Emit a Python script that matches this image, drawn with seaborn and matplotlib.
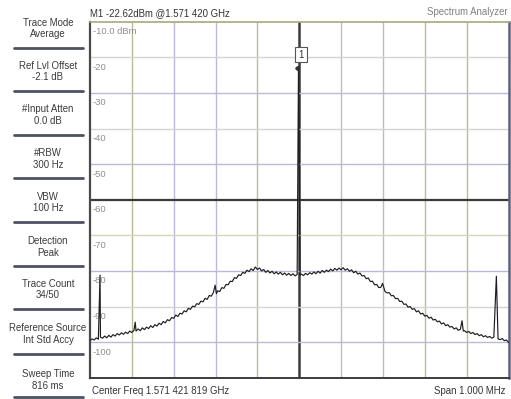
import matplotlib
matplotlib.use("Agg")
import matplotlib.pyplot as plt
from matplotlib.lines import Line2D
import seaborn as sns
import pandas as pd

# ---------------- data ----------------
freq_khz = [
    -500, -495, -490, -485, -480, -476, -475, -470, -465, -460,
    -455, -450, -445, -440, -435, -430, -425, -420, -415, -410,
    -405, -400, -395, -392, -390, -385, -380, -375, -370, -365,
    -360, -355, -350, -345, -340, -335, -330, -325, -320, -315,
    -310, -305, -300, -295, -290, -285, -280, -275, -270, -265,
    -260, -255, -250, -245, -240, -235, -230, -225, -220, -215,
    -210, -205, -201, -198, -195, -190, -185, -180, -175, -170,
    -165, -160, -155, -150, -145, -140, -135, -130, -125, -120,
    -115, -110, -105, -100, -95, -90, -85, -80, -75, -70,
    -65, -60, -55, -50, -45, -40, -35, -30, -25, -20,
    -15, -10, -5, -1.8, 2, 5, 10, 15, 20, 25,
    30, 35, 40, 45, 50, 55, 60, 65, 70, 75,
    80, 85, 90, 95, 100, 105, 110, 115, 120, 125,
    130, 135, 140, 145, 150, 155, 160, 165, 170, 175,
    180, 185, 190, 195, 199, 205, 210, 215, 220, 225,
    230, 235, 240, 245, 250, 255, 260, 265, 270, 275,
    280, 285, 290, 295, 300, 305, 310, 315, 320, 325,
    330, 335, 340, 345, 350, 355, 360, 365, 370, 375,
    380, 385, 389, 392, 395, 400, 405, 410, 415, 420,
    425, 430, 435, 440, 445, 450, 455, 460, 465, 471,
    475, 480, 485, 490, 495, 500,
]
level_dbm = [
    -99.6, -99.1, -99.4, -98.8, -99.2, -81.2, -98.6, -98.9, -98.3, -98.8,
    -98.1, -98.6, -97.9, -98.3, -97.6, -98.0, -97.4, -97.8, -97.2, -97.6,
    -96.9, -97.3, -96.7, -94.4, -96.9, -96.3, -96.8, -96.0, -96.5, -95.8,
    -96.2, -95.4, -95.9, -95.1, -95.5, -94.7, -95.1, -94.2, -94.6, -93.7,
    -94.0, -93.1, -93.3, -92.4, -92.8, -91.9, -92.1, -91.2, -91.5, -90.5,
    -90.8, -89.9, -90.1, -89.2, -89.4, -88.5, -88.7, -87.7, -88.0, -86.9,
    -87.1, -86.0, -84.0, -86.4, -85.6, -85.8, -84.7, -84.9, -83.8, -83.9,
    -82.9, -83.0, -81.9, -82.1, -81.1, -81.3, -80.4, -80.7, -79.8, -80.2,
    -79.4, -79.9, -78.9, -79.6, -79.2, -80.0, -79.6, -80.4, -79.9, -80.6,
    -80.1, -80.8, -80.3, -80.9, -80.4, -81.1, -80.6, -81.2, -80.7, -81.3,
    -80.8, -81.4, -81.0, -22.62, -81.2, -80.9, -81.3, -80.7, -81.1, -80.5,
    -80.9, -80.3, -80.8, -80.1, -80.6, -79.9, -80.4, -79.8, -80.2, -79.5,
    -80.0, -79.3, -79.8, -79.2, -79.7, -79.1, -79.8, -79.4, -80.1, -79.7,
    -80.5, -80.1, -80.9, -80.6, -81.4, -81.3, -82.2, -82.0, -83.0, -82.9,
    -83.9, -83.8, -84.7, -84.6, -83.5, -85.8, -86.2, -86.1, -87.0, -86.9,
    -87.8, -87.7, -88.6, -88.5, -89.4, -89.3, -90.2, -90.0, -90.8, -90.6,
    -91.5, -91.2, -92.1, -91.9, -92.7, -92.5, -93.3, -93.0, -93.8, -93.6,
    -94.3, -94.1, -94.9, -94.6, -95.4, -95.1, -95.8, -95.6, -96.3, -96.0,
    -96.7, -96.4, -94.0, -96.9, -96.8, -97.3, -97.0, -97.6, -97.3, -97.9,
    -97.6, -98.2, -97.9, -98.5, -98.2, -98.7, -98.4, -98.9, -98.6, -81.5,
    -99.1, -99.3, -99.0, -99.6, -99.4, -100.1,
]

ref_levels = [-10, -20, -30, -40, -50, -60, -70, -80, -90, -100]
ref_labels = ["-10.0 dBm", "-20", "-30", "-40", "-50", "-60", "-70", "-80", "-90", "-100"]

softkey_titles = ["Trace Mode", "Ref Lvl Offset", "#Input Atten", "#RBW", "VBW",
                  "Detection", "Trace Count", "Reference Source", "Sweep Time"]
softkey_values = ["Average", "-2.1 dB", "0.0 dB", "300 Hz", "100 Hz",
                  "Peak", "34/50", "Int Std Accy", "816 ms"]

marker_freq = -1.8
marker_level = -22.62
marker_text = "M1 -22.62dBm @1.571 420 GHz"
title_right = "Spectrum Analyzer"
center_text = "Center Freq 1.571 421 819 GHz"
span_text = "Span 1.000 MHz"

# ---------------- style ----------------
sns.set_style("white")
plt.rcParams["font.family"] = ["Liberation Sans", "DejaVu Sans"]

W, H = 511, 399
fig = plt.figure(figsize=(W / 100, H / 100), dpi=100)
fig.patch.set_facecolor("white")

L, R, T, B = 90, 508.5, 21.7, 377.7
ax = fig.add_axes([L / W, (H - B) / H, (R - L) / W, (B - T) / H])
ax.set_xlim(-500, 500)
ax.set_ylim(-110, -10)

# grid
tan = "#bcbc98"
lav = "#babad6"
lgray = "#d4d4d4"
dark = "#3a3a3a"
vcols = [tan, lav, lav, tan, dark, lav, lav, tan, tan]
for k, c in enumerate(vcols, start=1):
    xv = -500 + 100 * k
    ax.axvline(xv, color=c, lw=1.8 if c == dark else 1.0, zorder=1)
hcols = [lgray, lav, lgray, lav, dark, "#d6d6bc", lav, lgray, lav]
for k, c in enumerate(hcols, start=1):
    yv = -10 - 10 * k
    ax.axhline(yv, color=c, lw=1.6 if c == dark else 1.0, zorder=1)

df = pd.DataFrame({"freq_khz": freq_khz, "level_dbm": level_dbm})
sns.lineplot(data=df, x="freq_khz", y="level_dbm", ax=ax, color="#1e1e1e",
             lw=0.85, estimator=None, sort=False, zorder=3)
ax.plot([marker_freq - 3], [marker_level - 0.5], marker="D", ms=1.8, color="#333333", zorder=4)
ax.text(marker_freq + 6, marker_level + 3.4, "1", fontsize=7, ha="center", va="center",
        color="#333333", zorder=5,
        bbox=dict(boxstyle="square,pad=0.3", fc="white", ec="#555555", lw=0.8))

for lvl, lab in zip(ref_levels, ref_labels):
    ax.text(-493, lvl - 2.8, lab, fontsize=6.8, color="#8e8e8e", ha="left", va="center", zorder=2)

ax.set_xticks([])
ax.set_yticks([])
ax.set_xlabel("")
ax.set_ylabel("")
ax.spines["top"].set_color("#a8a87c")
ax.spines["top"].set_linewidth(1.2)
ax.spines["left"].set_color("#4a4a4a")
ax.spines["left"].set_linewidth(1.6)
ax.spines["bottom"].set_color("#3c3c3c")
ax.spines["bottom"].set_linewidth(1.4)
ax.spines["right"].set_color("#60607a")
ax.spines["right"].set_linewidth(1.8)
for s in ax.spines.values():
    s.set_visible(True)

# header / footer text
def fx(px):
    return px / W

def fy(py):
    return 1 - py / H

fig.text(fx(90), fy(13), marker_text, fontsize=6.9, color="#333333", ha="left", va="center")
fig.text(fx(508), fy(11.7), title_right, fontsize=6.9, color="#808080", ha="right", va="center")
fig.text(fx(91.5), fy(391.5), center_text, fontsize=6.9, color="#333333", ha="left", va="center")
fig.text(fx(506), fy(391.5), span_text, fontsize=6.9, color="#333333", ha="right", va="center")

# softkey panel
title_y = [22.7, 66, 109.3, 153.3, 196.7, 241, 284, 328.3, 374.3]
bar_y = [48.3, 90.7, 135, 178.3, 222.3, 266, 309.3, 354, 396.7]
for t, v, ty, by in zip(softkey_titles, softkey_values, title_y, bar_y):
    fig.text(fx(48), fy(ty), t, fontsize=6.9, color="#3a3a3a", ha="center", va="center")
    fig.text(fx(48), fy(ty + 11.5), v, fontsize=6.9, color="#3a3a3a", ha="center", va="center")
    fig.add_artist(Line2D([fx(13.5), fx(82.5)], [fy(by), fy(by)], color="#4c5262",
                          lw=2.0, transform=fig.transFigure))

fig.savefig("out.png", dpi=100, facecolor="white")
